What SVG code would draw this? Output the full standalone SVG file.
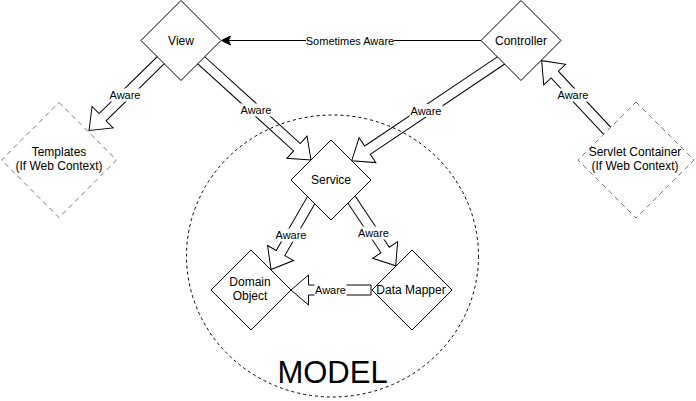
<svg xmlns="http://www.w3.org/2000/svg" width="696" height="401" viewBox="0 0 696 401">
<style>
  .node { fill: #ffffff; stroke: #000000; stroke-width: 1; }
  .dnode { fill: #ffffff; stroke: #777777; stroke-width: 1; stroke-dasharray: 5 4; }
  .txt { font-family: "Liberation Sans", Arial, sans-serif; font-size: 12px; fill: #000000; text-anchor: middle; }
  .lbl { font-family: "Liberation Sans", Arial, sans-serif; font-size: 11px; fill: #000000; text-anchor: middle; }
  .flex { fill: #ffffff; stroke: #000000; stroke-width: 1; stroke-linejoin: miter; }
  .bg { fill: #ffffff; }
</style>
<defs>
  <marker id="classic" viewBox="0 0 10 10" refX="10" refY="5" markerWidth="10" markerHeight="10" markerUnits="userSpaceOnUse" orient="auto">
    <path d="M10,5 L1,0.5 L3,5 L1,9.5 Z" fill="#000000" stroke="#000000" stroke-width="1"/>
  </marker>
</defs>
<rect width="696" height="401" fill="#ffffff"/>

<g id="connectors">
  <!-- Controller -> View : Sometimes Aware -->
  <line x1="482" y1="40.5" x2="221.5" y2="40.5" stroke="#000000" stroke-width="1" marker-end="url(#classic)"/>
  <!-- View -> Templates -->
  <g transform="translate(89,130.5) rotate(135.61)"><polygon class="flex" points="-103.8,-5 -19,-5 -19,-15 0,0 -19,15 -19,5 -103.8,5"/></g>
  <!-- View -> Service -->
  <g transform="translate(311,160) rotate(42.26)"><polygon class="flex" points="-151,-5 -19,-5 -19,-15 0,0 -19,15 -19,5 -151,5"/></g>
  <!-- Controller -> Service -->
  <g transform="translate(351.7,160.7) rotate(146.14)"><polygon class="flex" points="-182.8,-5 -19,-5 -19,-15 0,0 -19,15 -19,5 -182.8,5"/></g>
  <!-- Servlet Container -> Controller -->
  <g transform="translate(541.7,60.7) rotate(226.92)"><polygon class="flex" points="-97.9,-5 -19,-5 -19,-15 0,0 -19,15 -19,5 -97.9,5"/></g>
  <!-- Service -> Domain Object -->
  <g transform="translate(271,269.5) rotate(120.1)"><polygon class="flex" points="-82.8,-5 -19,-5 -19,-15 0,0 -19,15 -19,5 -82.8,5"/></g>
  <!-- Service -> Data Mapper -->
  <g transform="translate(395.7,265.8) rotate(56.31)"><polygon class="flex" points="-82.7,-5 -19,-5 -19,-15 0,0 -19,15 -19,5 -82.7,5"/></g>
  <!-- Data Mapper -> Domain Object -->
  <g transform="translate(291,290) rotate(180)"><polygon class="flex" points="-80,-5 -17.5,-5 -17.5,-15 0,0 -17.5,15 -17.5,5 -80,5"/></g>

  <!-- labels -->
  <rect class="bg" x="306" y="34" width="88" height="13"/>
  <text class="lbl" x="350" y="44.5">Sometimes Aware</text>
  <rect class="bg" x="108.5" y="88.5" width="33" height="13"/>
  <text class="lbl" x="125" y="99">Aware</text>
  <rect class="bg" x="239.5" y="103.5" width="33" height="13"/>
  <text class="lbl" x="256" y="114">Aware</text>
  <rect class="bg" x="409.5" y="104" width="33" height="13"/>
  <text class="lbl" x="426" y="114.5">Aware</text>
  <rect class="bg" x="556.5" y="88.5" width="33" height="13"/>
  <text class="lbl" x="573" y="99">Aware</text>
  <rect class="bg" x="274.5" y="228.5" width="33" height="13"/>
  <text class="lbl" x="291" y="239">Aware</text>
  <rect class="bg" x="357" y="226.5" width="33" height="13"/>
  <text class="lbl" x="373.5" y="237">Aware</text>
  <rect class="bg" x="314.5" y="283.5" width="32" height="13"/>
  <text class="lbl" x="330.5" y="294">Aware</text>
</g>

<g id="model">
  <ellipse cx="332.5" cy="256" rx="146" ry="141" fill="none" stroke="#000000" stroke-width="1" stroke-dasharray="3 3"/>
  <text x="332.5" y="383" font-family="'Liberation Sans', Arial, sans-serif" font-size="31" text-anchor="middle" fill="#000000">MODEL</text>
</g>

<g id="view">
  <polygon class="node" points="181,0.5 221,40.5 181,80.5 141,40.5"/>
  <text class="txt" x="181" y="44.5">View</text>
</g>
<g id="controller">
  <polygon class="node" points="521,0.5 561,40.5 521,80.5 481,40.5"/>
  <text class="txt" x="521" y="44.5">Controller</text>
</g>
<g id="templates">
  <polygon class="dnode" points="59,102.5 116.5,160 59,217.5 1.5,160"/>
  <text class="txt" x="59" y="156">Templates</text>
  <text class="txt" x="59" y="170">(If Web Context)</text>
</g>
<g id="servlet-container">
  <polygon class="dnode" points="636,102 694,160 636,218 578,160"/>
  <text class="txt" x="635" y="155.5">Servlet Container</text>
  <text class="txt" x="635" y="169.5">(If Web Context)</text>
</g>
<g id="service">
  <polygon class="node" points="331,140 371,180 331,220 291,180"/>
  <text class="txt" x="331" y="184">Service</text>
</g>
<g id="domain-object">
  <polygon class="node" points="251,250 291,290 251,330 211,290"/>
  <text class="txt" x="250" y="285.5">Domain</text>
  <text class="txt" x="250" y="299.5">Object</text>
</g>
<g id="data-mapper">
  <polygon class="node" points="412,250 452,290 412,330 372,290"/>
  <text class="txt" x="411" y="294">Data Mapper</text>
</g>
</svg>
